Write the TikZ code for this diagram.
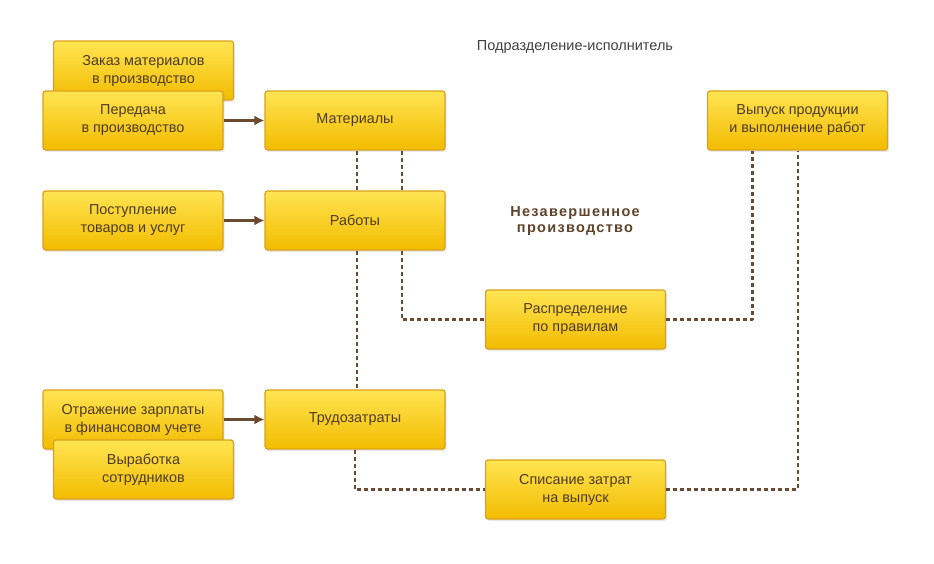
\documentclass[tikz,border=0pt]{standalone}
\usepackage{fontspec}
\setmainfont{Liberation Sans}
\newfontfamily\titlefont[LetterSpace=9]{Liberation Sans}
\usetikzlibrary{arrows.meta,shadows}

\definecolor{boxtop}{HTML}{FFE452}
\definecolor{boxbot}{HTML}{F2BC00}
\definecolor{boxline}{HTML}{DBA11A}
\definecolor{boxtext}{HTML}{4E3B22}
\definecolor{linkcol}{HTML}{6A4A30}

\begin{document}
\begin{tikzpicture}[line cap=butt, line join=round, x=1pt, y=-1pt,
  opbox/.style={draw=boxline, line width=1.2pt, rounded corners=2.5pt,
    top color=boxtop, bottom color=boxbot, text=boxtext,
    minimum width=180pt, minimum height=59pt, align=center,
    font=\fontsize{14.4}{18}\selectfont,
    drop shadow={shadow xshift=1.5pt, shadow yshift=-2pt, opacity=0.18}},
  flow/.style={draw=linkcol, line width=2.4pt, -{Latex[length=10pt,width=10pt]}},
  link/.style={draw=linkcol, line width=2.4pt, dash pattern=on 4pt off 3pt}]
\useasboundingbox (0,0) rectangle (934,564);

\node[text=black!75, font=\fontsize{14.5}{17}\selectfont] (unit) at (575,47) {Подразделение-исполнитель};
\node[text=linkcol!90!black, align=center, font=\titlefont\bfseries\fontsize{14.5}{16.5}\selectfont] (wip) at (575,221) {Незавершенное\\производство};

\node[opbox] (order) at (143.5,70.5) {Заказ материалов\\в производство};
\node[opbox] (issue) at (133,120.5) {Передача\\в производство};
\node[opbox] (mat) at (355,120.5) {Материалы};
\node[opbox] (recv) at (133,220.5) {Поступление\\товаров и услуг};
\node[opbox] (work) at (355,220.5) {Работы};
\node[opbox] (outp) at (797.5,120.5) {Выпуск продукции\\и выполнение работ};
\node[opbox] (distr) at (575.5,319.5) {Распределение\\по правилам};
\node[opbox] (salary) at (133,419.5) {Отражение зарплаты\\в финансовом учете};
\node[opbox] (output) at (143.5,469.5) {Выработка\\сотрудников};
\node[opbox] (labor) at (355,419.5) {Трудозатраты};
\node[opbox] (wrof) at (575.5,489.5) {Списание затрат\\на выпуск};

\draw[flow] (issue) -- (mat);
\draw[flow] (recv) -- (work);
\draw[flow] (salary.east |- labor) -- (labor);

\draw[link] ([xshift=2pt]mat.south) -- ([xshift=2pt]work.north);
\draw[link] ([xshift=47pt]mat.south) -- ([xshift=47pt]work.north);
\draw[link] ([xshift=2pt]work.south) -- ([xshift=2pt]labor.north);
\draw[link] ([xshift=47pt]work.south) |- (distr.west);
\draw[link] (distr.east) -| ([xshift=-45pt]outp.south);
\draw[link] (labor.south) |- (wrof.west);
\draw[link] (wrof.east) -| ([xshift=0.5pt]outp.south);
\end{tikzpicture}
\end{document}
